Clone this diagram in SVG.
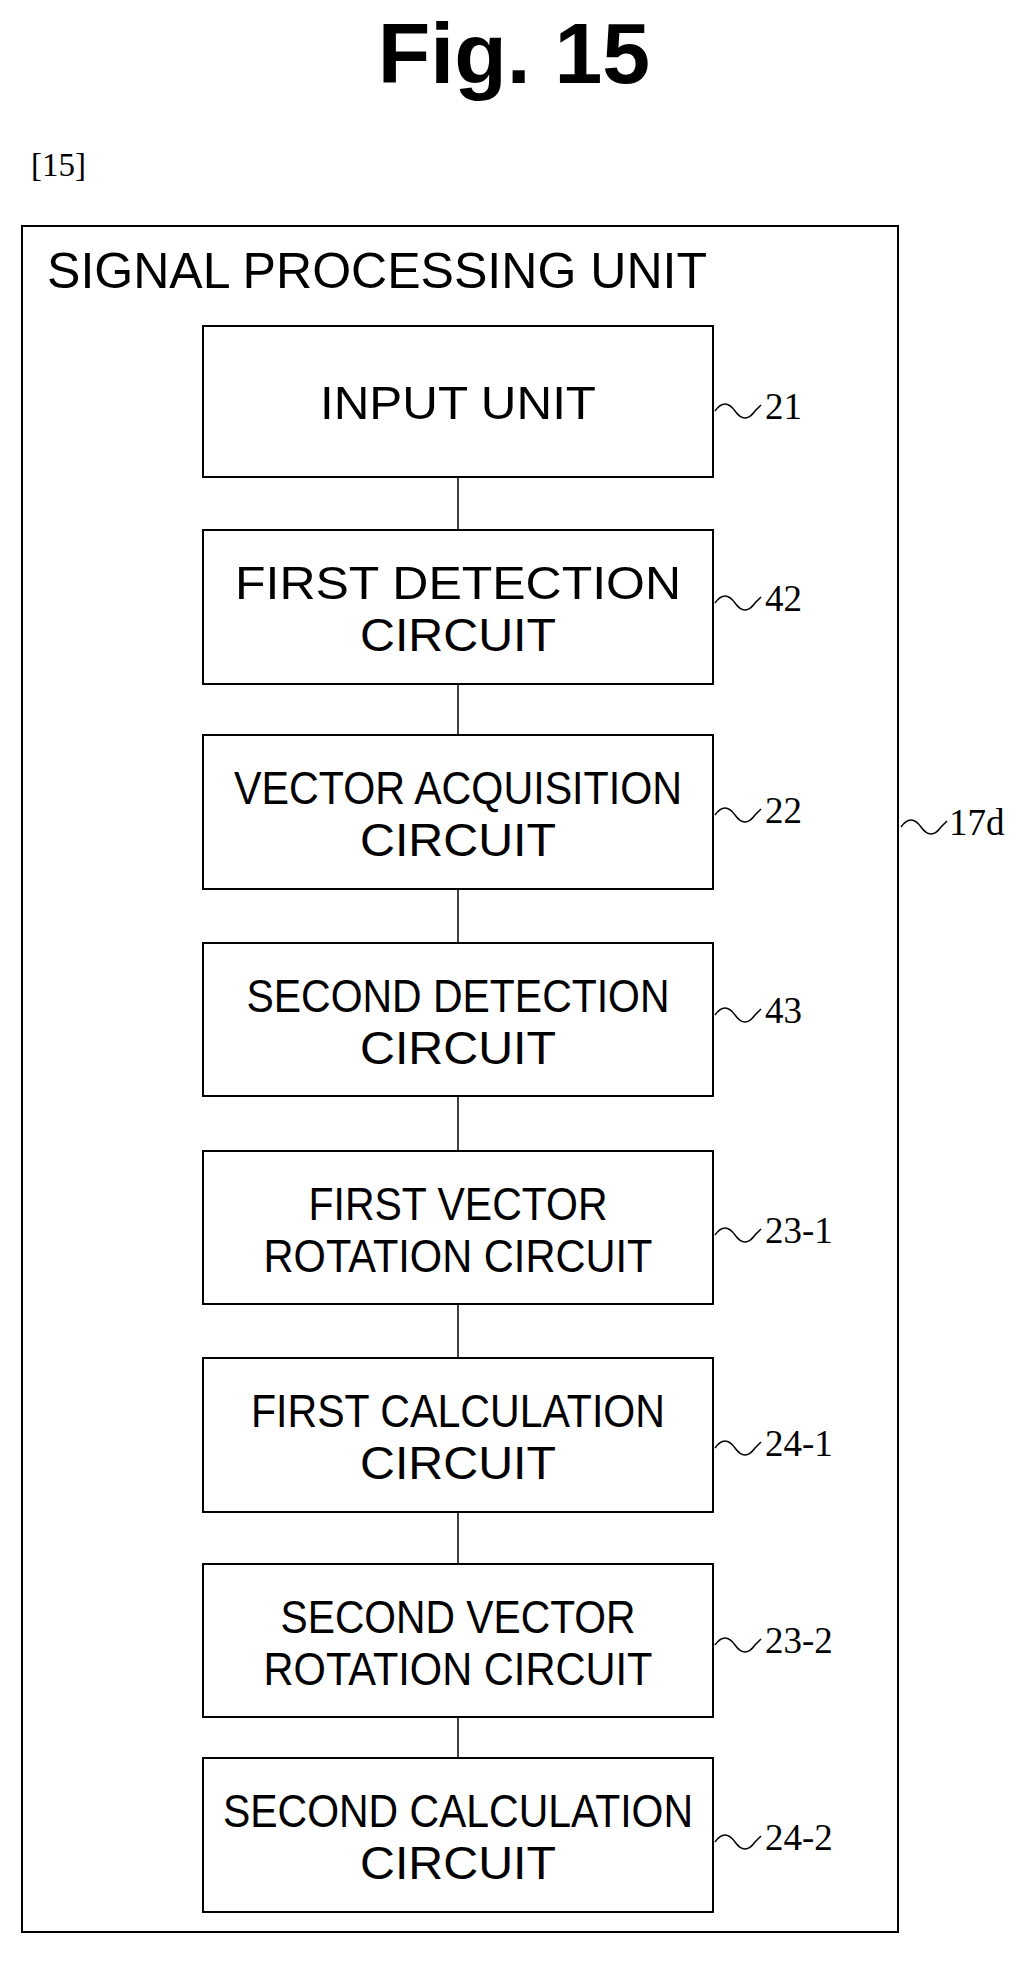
<svg xmlns="http://www.w3.org/2000/svg" width="1027" height="1965" viewBox="0 0 1027 1965">
<style>
.b{fill:#fff;stroke:#000;stroke-width:2}
.t{font-family:"Liberation Sans",Arial,sans-serif;font-size:47px;text-anchor:middle;dominant-baseline:central}
.n{font-family:"Liberation Serif","Times New Roman",serif;font-size:37px;dominant-baseline:central}
.s{fill:none;stroke:#000;stroke-width:1.5}
.c{stroke:#000;stroke-width:1.5}
</style>
<rect width="1027" height="1965" fill="#fff"/>
<text x="514" y="83" font-family="Liberation Sans,Arial,sans-serif" font-size="86" font-weight="bold" text-anchor="middle">Fig. 15</text>
<text x="31" y="176" font-family="Liberation Serif,serif" font-size="33">[15]</text>
<g id="unit"><rect class="b" x="22" y="226" width="876" height="1706" fill="none"/>
<text x="47" y="288" font-family="Liberation Sans,Arial,sans-serif" font-size="50" textLength="660" lengthAdjust="spacingAndGlyphs">SIGNAL PROCESSING UNIT</text>
<path class="s" d="M901 827 q10 -14 20 0 q10 14 20 0 l6 -6"/><text class="n" x="949" y="822">17d</text></g>
<g id="connectors">
<line class="c" x1="458" y1="477" x2="458" y2="530"/>
<line class="c" x1="458" y1="684" x2="458" y2="735"/>
<line class="c" x1="458" y1="889" x2="458" y2="943"/>
<line class="c" x1="458" y1="1096" x2="458" y2="1151"/>
<line class="c" x1="458" y1="1304" x2="458" y2="1358"/>
<line class="c" x1="458" y1="1512" x2="458" y2="1564"/>
<line class="c" x1="458" y1="1717" x2="458" y2="1758"/>
</g>
<g id="n21"><rect class="b" x="203" y="326" width="510" height="151"/><text class="t" x="458" y="402" textLength="276" lengthAdjust="spacingAndGlyphs">INPUT UNIT</text><path class="s" d="M715 411 q10 -14 20 0 q10 14 20 0 l6 -6"/><text class="n" x="765" y="406">21</text></g>
<g id="n42"><rect class="b" x="203" y="530" width="510" height="154"/><text class="t" x="458" y="582" textLength="446" lengthAdjust="spacingAndGlyphs">FIRST DETECTION</text><text class="t" x="458" y="634" textLength="196" lengthAdjust="spacingAndGlyphs">CIRCUIT</text><path class="s" d="M715 603 q10 -14 20 0 q10 14 20 0 l6 -6"/><text class="n" x="765" y="598">42</text></g>
<g id="n22"><rect class="b" x="203" y="735" width="510" height="154"/><text class="t" x="458" y="787" textLength="448" lengthAdjust="spacingAndGlyphs">VECTOR ACQUISITION</text><text class="t" x="458" y="839" textLength="196" lengthAdjust="spacingAndGlyphs">CIRCUIT</text><path class="s" d="M715 815 q10 -14 20 0 q10 14 20 0 l6 -6"/><text class="n" x="765" y="810">22</text></g>
<g id="n43"><rect class="b" x="203" y="943" width="510" height="153"/><text class="t" x="458" y="995" textLength="423" lengthAdjust="spacingAndGlyphs">SECOND DETECTION</text><text class="t" x="458" y="1047" textLength="196" lengthAdjust="spacingAndGlyphs">CIRCUIT</text><path class="s" d="M715 1015 q10 -14 20 0 q10 14 20 0 l6 -6"/><text class="n" x="765" y="1010">43</text></g>
<g id="n23-1"><rect class="b" x="203" y="1151" width="510" height="153"/><text class="t" x="458" y="1203" textLength="299" lengthAdjust="spacingAndGlyphs">FIRST VECTOR</text><text class="t" x="458" y="1255" textLength="389" lengthAdjust="spacingAndGlyphs">ROTATION CIRCUIT</text><path class="s" d="M715 1235 q10 -14 20 0 q10 14 20 0 l6 -6"/><text class="n" x="765" y="1230">23-1</text></g>
<g id="n24-1"><rect class="b" x="203" y="1358" width="510" height="154"/><text class="t" x="458" y="1410" textLength="414" lengthAdjust="spacingAndGlyphs">FIRST CALCULATION</text><text class="t" x="458" y="1462" textLength="196" lengthAdjust="spacingAndGlyphs">CIRCUIT</text><path class="s" d="M715 1448 q10 -14 20 0 q10 14 20 0 l6 -6"/><text class="n" x="765" y="1443">24-1</text></g>
<g id="n23-2"><rect class="b" x="203" y="1564" width="510" height="153"/><text class="t" x="458" y="1616" textLength="355" lengthAdjust="spacingAndGlyphs">SECOND VECTOR</text><text class="t" x="458" y="1668" textLength="389" lengthAdjust="spacingAndGlyphs">ROTATION CIRCUIT</text><path class="s" d="M715 1645 q10 -14 20 0 q10 14 20 0 l6 -6"/><text class="n" x="765" y="1640">23-2</text></g>
<g id="n24-2"><rect class="b" x="203" y="1758" width="510" height="154"/><text class="t" x="458" y="1810" textLength="470" lengthAdjust="spacingAndGlyphs">SECOND CALCULATION</text><text class="t" x="458" y="1862" textLength="196" lengthAdjust="spacingAndGlyphs">CIRCUIT</text><path class="s" d="M715 1842 q10 -14 20 0 q10 14 20 0 l6 -6"/><text class="n" x="765" y="1837">24-2</text></g>
</svg>
